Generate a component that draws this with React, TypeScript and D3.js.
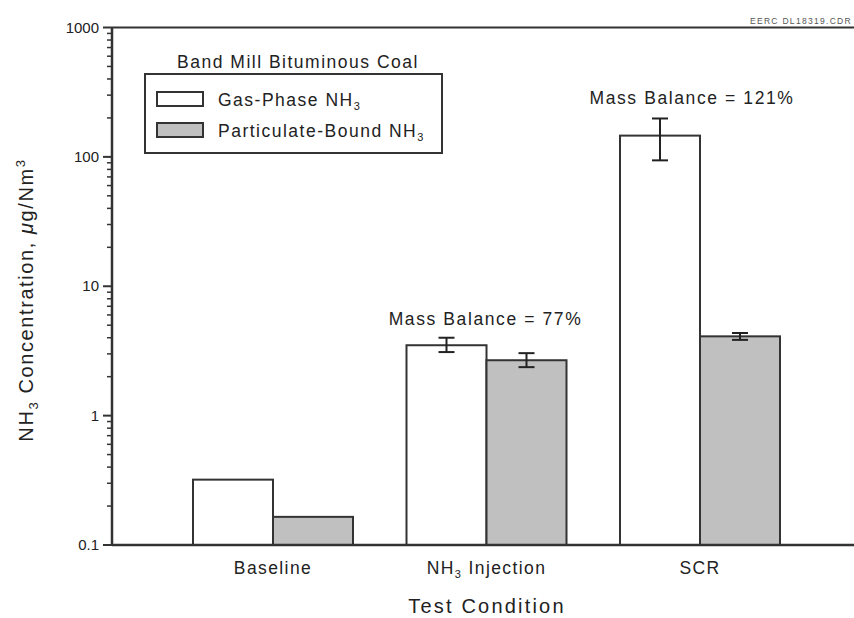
import * as d3 from 'd3';

const categories = ['Baseline', 'NH3 Injection', 'SCR'];
const gasPhase = [0.32, 3.5, 146];
const gasErrLow = [null, 3.1, 94];
const gasErrHigh = [null, 4.0, 198];
const particulate = [0.165, 2.68, 4.1];
const partErrLow = [null, 2.37, 3.85];
const partErrHigh = [null, 3.04, 4.35];
const yTicks = [0.1, 1, 10, 100, 1000];
const massBalance = [null, '77%', '121%'];

const W = 854;
const H = 618;
const left = 112;
const top = 27.5;
const bottom = 545;
const barW = 80;
const font = '"Liberation Sans", Arial, Helvetica, sans-serif';
const ink = '#333';
const txt = '#222';
// label offsets for the mass balance notes, relative to group centre
const mbDx = [0, -1, -8];
const mbY = [0, 325, 104];

export default function App() {
    const y = d3.scaleLog().domain([0.1, 1000]).range([bottom, top]);
    const x = d3.scalePoint<string>().domain(categories).range([273, 700]);

    const minor: number[] = [];
    for (let d = 0.1; d < 1000; d *= 10) {
        for (let k = 2; k <= 9; k++) minor.push(d * k);
    }

    const errBar = (cx: number, lo: number | null, hi: number | null, key: string) => {
        if (lo == null || hi == null) return null;
        return (
            <g key={key} stroke="#222" strokeWidth={2}>
                <line x1={cx} x2={cx} y1={y(lo)} y2={y(hi)} />
                <line x1={cx - 8} x2={cx + 8} y1={y(lo)} y2={y(lo)} />
                <line x1={cx - 8} x2={cx + 8} y1={y(hi)} y2={y(hi)} />
            </g>
        );
    };

    return (
        <svg width={W} height={H} style={{ position: 'absolute', left: 0, top: 0, background: '#fff' }} fontFamily={font}>
            <rect width={W} height={H} fill="#fff" />
            <text x={852} y={24} fontSize={8.5} letterSpacing={1.3} textAnchor="end" fill="#555">EERC DL18319.CDR</text>

            {/* bars */}
            {categories.map((c, i) => {
                const cx = x(c) as number;
                return (
                    <g key={c}>
                        <rect x={cx - barW} y={y(gasPhase[i])} width={barW} height={bottom - y(gasPhase[i])}
                            fill="#fff" stroke={ink} strokeWidth={2} />
                        <rect x={cx} y={y(particulate[i])} width={barW} height={bottom - y(particulate[i])}
                            fill="#c0c0c0" stroke={ink} strokeWidth={2} />
                        {errBar(cx - barW / 2, gasErrLow[i], gasErrHigh[i], c + 'g')}
                        {errBar(cx + barW / 2, partErrLow[i], partErrHigh[i], c + 'p')}
                        <text x={cx} y={574} fontSize={17.5} letterSpacing={1.4} textAnchor="middle" fill={txt}>
                            {c === 'NH3 Injection' ? (
                                <>NH<tspan fontSize={11} dy={4}>3</tspan><tspan dy={-4}> Injection</tspan></>
                            ) : c}
                        </text>
                        {massBalance[i] && (
                            <text x={cx + mbDx[i]} y={mbY[i]} fontSize={17.5} letterSpacing={1.6} textAnchor="middle" fill={txt}>
                                {'Mass Balance = ' + massBalance[i]}
                            </text>
                        )}
                    </g>
                );
            })}

            {/* frame lines */}
            <line x1={left} x2={W} y1={top} y2={top} stroke={ink} strokeWidth={2} />
            <line x1={left} x2={W} y1={bottom} y2={bottom} stroke={ink} strokeWidth={2.5} />
            <line x1={left} x2={left} y1={top} y2={bottom} stroke={ink} strokeWidth={2.5} />

            {/* y ticks */}
            {minor.map((v) => (
                <line key={'m' + v} x1={left - 5} x2={left} y1={y(v)} y2={y(v)} stroke={ink} strokeWidth={1.5} />
            ))}
            {yTicks.map((v) => (
                <g key={'t' + v}>
                    <line x1={left - 9} x2={left} y1={y(v)} y2={y(v)} stroke={ink} strokeWidth={2} />
                    <text x={left - 13} y={y(v) + 5} fontSize={15} textAnchor="end" fill={txt}>{String(v)}</text>
                </g>
            ))}

            {/* axis titles */}
            <text transform="translate(33,300) rotate(-90)" fontSize={20} letterSpacing={1.6} textAnchor="middle" fill={txt}>
                NH<tspan fontSize={13} dy={5}>3</tspan><tspan dy={-5}> Concentration, </tspan>
                <tspan fontStyle="italic">μ</tspan>g/Nm<tspan fontSize={13} dy={-8}>3</tspan>
            </text>
            <text x={487} y={613} fontSize={20} letterSpacing={2.2} textAnchor="middle" fill={txt}>Test Condition</text>

            {/* legend */}
            <text x={298} y={68} fontSize={17.5} letterSpacing={1.5} textAnchor="middle" fill={txt}>Band Mill Bituminous Coal</text>
            <rect x={145} y={74} width={297} height={79} fill="#fff" stroke={ink} strokeWidth={2} />
            <rect x={157} y={92} width={46} height={14} fill="#fff" stroke={ink} strokeWidth={2} />
            <rect x={157} y={123} width={46} height={14} fill="#c0c0c0" stroke={ink} strokeWidth={2} />
            <text x={218} y={106} fontSize={17.5} letterSpacing={1.5} fill={txt}>
                Gas-Phase NH<tspan fontSize={11} dy={4}>3</tspan>
            </text>
            <text x={218} y={137} fontSize={17.5} letterSpacing={1.5} fill={txt}>
                Particulate-Bound NH<tspan fontSize={11} dy={4}>3</tspan>
            </text>
        </svg>
    );
}
